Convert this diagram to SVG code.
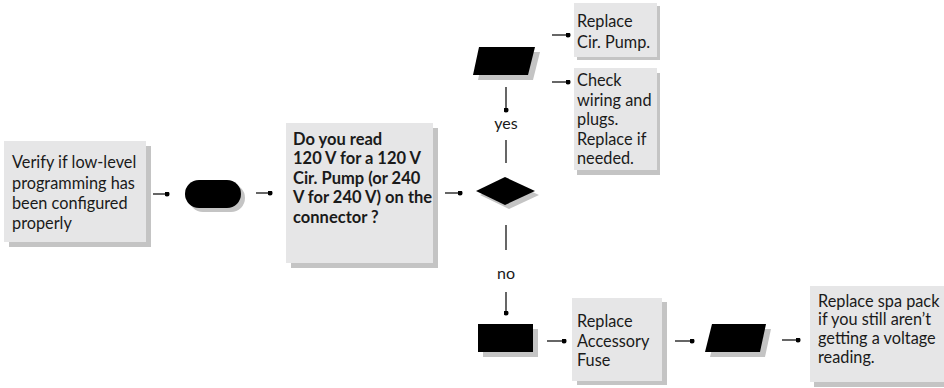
<svg xmlns="http://www.w3.org/2000/svg" width="944" height="388" viewBox="0 0 944 388">
<defs>
<style>
.box{fill:#e6e6e7}
.sh{fill:#c4c4c4}
.blk{fill:#000}
.t{font-family:Lato,"Noto Sans",sans-serif;font-size:16.3px;fill:#1a1a1a}
.b{font-weight:bold;font-size:16.5px}
.c{stroke:#000;stroke-width:1.2;fill:none}
.lbl{font-family:Lato,"Noto Sans",sans-serif;font-size:16px;fill:#1a1a1a;text-anchor:middle}
</style>
<marker id="dot" viewBox="0 0 6 6" refX="3" refY="3" markerWidth="5" markerHeight="5" markerUnits="userSpaceOnUse"><circle cx="3" cy="3" r="3" fill="#000"/></marker>
</defs>
<g id="connectors">
<line class="c" x1="153" y1="194" x2="167" y2="194" marker-end="url(#dot)"/>
<line class="c" x1="256" y1="193" x2="270" y2="193" marker-end="url(#dot)"/>
<line class="c" x1="445" y1="193" x2="460" y2="193" marker-end="url(#dot)"/>
<line class="c" x1="506" y1="163" x2="506" y2="140"/>
<line class="c" x1="506" y1="87" x2="506" y2="110" marker-end="url(#dot)"/>
<line class="c" x1="552" y1="35" x2="568" y2="35" marker-end="url(#dot)"/>
<line class="c" x1="552" y1="82" x2="568" y2="82" marker-end="url(#dot)"/>
<line class="c" x1="506" y1="225" x2="506" y2="250"/>
<line class="c" x1="506" y1="292" x2="506" y2="313" marker-end="url(#dot)"/>
<line class="c" x1="547" y1="341" x2="564" y2="341" marker-end="url(#dot)"/>
<line class="c" x1="675" y1="341" x2="692" y2="341" marker-end="url(#dot)"/>
<line class="c" x1="782" y1="340" x2="798" y2="340" marker-end="url(#dot)"/>
<text class="lbl" x="506" y="129">yes</text>
<text class="lbl" x="506" y="279">no</text>
</g>
<g id="verify">
<rect class="sh" x="9" y="146" width="142" height="101"/>
<rect class="box" x="4" y="141" width="142" height="101"/>
<text class="t" x="12" y="168">Verify if low-level</text>
<text class="t" x="12" y="189">programming has</text>
<text class="t" x="12" y="209">been configured</text>
<text class="t" x="12" y="229">properly</text>
</g>
<g id="terminal">
<rect class="sh" x="189" y="184" width="56" height="28" rx="14"/>
<rect class="blk" x="185" y="180" width="56" height="28" rx="14"/>
</g>
<g id="question">
<rect class="sh" x="291" y="128" width="147" height="140"/>
<rect class="box" x="286" y="123" width="147" height="140"/>
<text class="t b" x="293" y="145">Do you read</text>
<text class="t b" x="293" y="164">120 V for a 120 V</text>
<text class="t b" x="293" y="184">Cir. Pump (or 240</text>
<text class="t b" x="293" y="203">V for 240 V) on the</text>
<text class="t b" x="293" y="223">connector ?</text>
</g>
<g id="decision">
<polygon class="sh" points="480,195 509,181 539,195 509,209"/>
<polygon class="blk" points="476,191 505,177 535,191 505,205"/>
</g>
<g id="io-yes">
<polygon class="sh" points="484,52 540,52 533,80 478,80"/>
<polygon class="blk" points="479,47 535,47 528,75 473,75"/>
</g>
<g id="replace-pump">
<rect class="sh" x="577" y="6" width="83" height="54"/>
<rect class="box" x="574" y="3" width="83" height="54"/>
<text class="t" x="577" y="27">Replace</text>
<text class="t" x="577" y="48">Cir. Pump.</text>
</g>
<g id="check-wiring">
<rect class="sh" x="577" y="73" width="83" height="102"/>
<rect class="box" x="574" y="68" width="83" height="102"/>
<text class="t" x="577" y="86">Check</text>
<text class="t" x="577" y="106">wiring and</text>
<text class="t" x="577" y="125">plugs.</text>
<text class="t" x="577" y="145">Replace if</text>
<text class="t" x="577" y="164">needed.</text>
</g>
<g id="process-no">
<rect class="sh" x="483" y="329" width="55" height="28"/>
<rect class="blk" x="478" y="324" width="55" height="28"/>
</g>
<g id="replace-fuse">
<rect class="sh" x="577" y="302" width="90" height="83"/>
<rect class="box" x="572" y="298" width="90" height="83"/>
<text class="t" x="577" y="327">Replace</text>
<text class="t" x="577" y="347">Accessory</text>
<text class="t" x="577" y="366">Fuse</text>
</g>
<g id="io-no">
<polygon class="sh" points="717,329 771,329 765,357 710,357"/>
<polygon class="blk" points="712,324 766,324 760,352 705,352"/>
</g>
<g id="replace-pack">
<rect class="sh" x="814" y="291" width="135" height="96"/>
<rect class="box" x="810" y="286" width="135" height="96"/>
<text class="t" x="818" y="307">Replace spa pack</text>
<text class="t" x="818" y="325">if you still aren’t</text>
<text class="t" x="818" y="344">getting a voltage</text>
<text class="t" x="818" y="363">reading.</text>
</g>
</svg>
